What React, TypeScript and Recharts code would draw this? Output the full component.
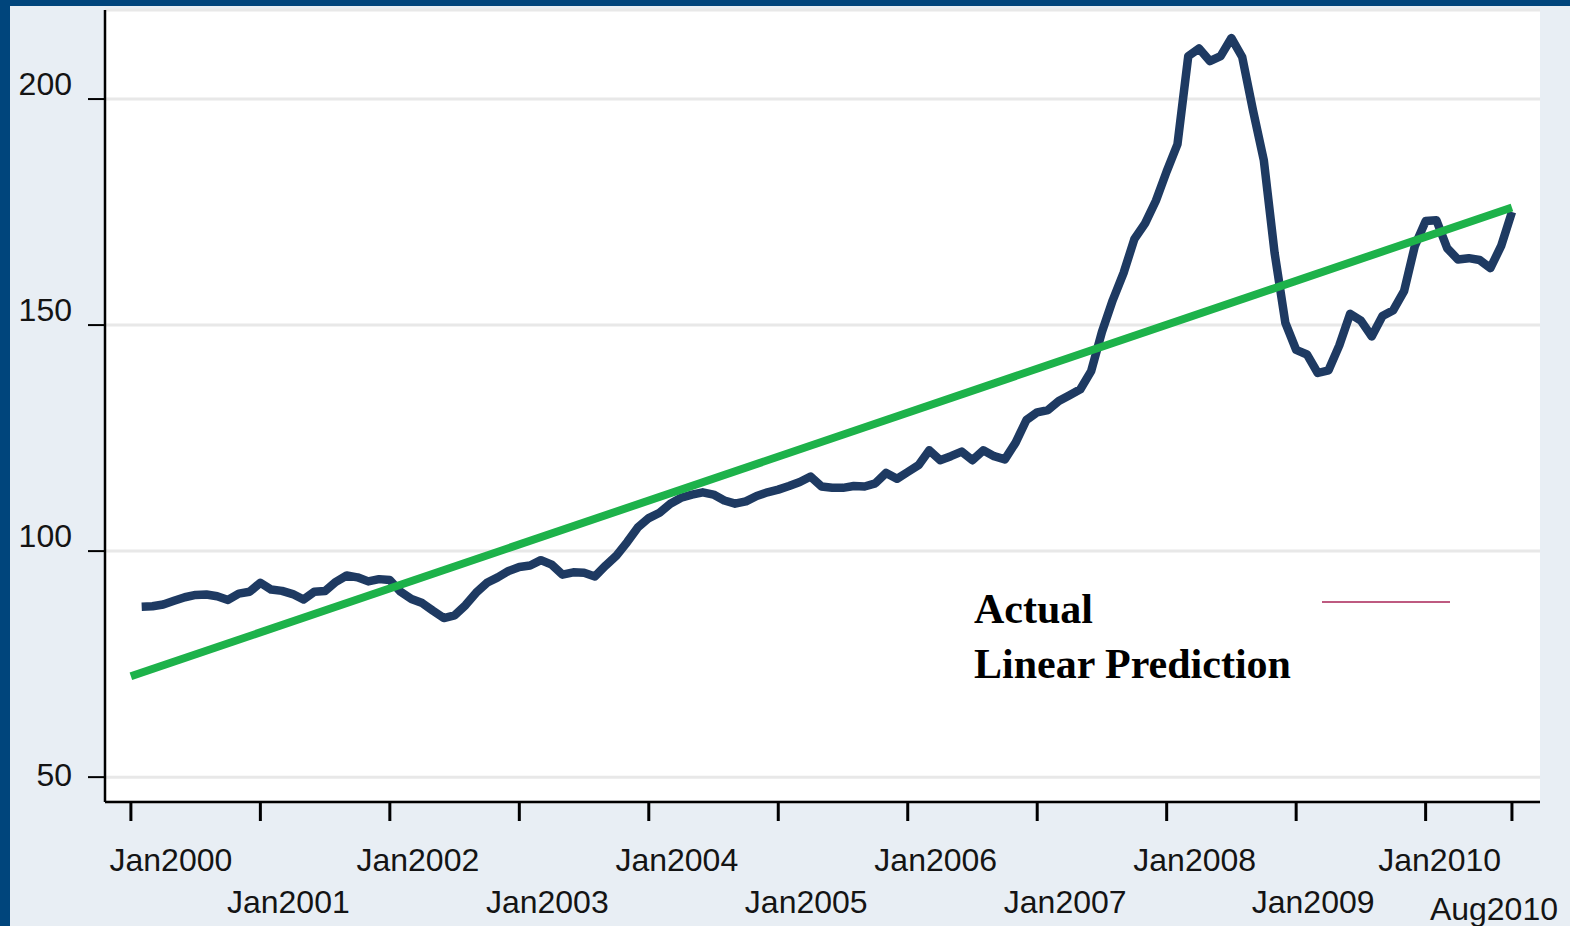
import React from "react";
import { LineChart, Line, XAxis, YAxis, CartesianGrid } from "recharts";

// monthly index, first actual point is Feb2000 (m = 1)
const actual2000 = [87.7, 87.8, 88.2, 89.0, 89.8, 90.3, 90.4, 90.0, 89.2, 90.6, 91.0];
const actual2001 = [93.0, 91.5, 91.2, 90.5, 89.3, 91.0, 91.2, 93.2, 94.6, 94.2, 93.3, 93.8];
const actual2002 = [93.6, 91.0, 89.4, 88.5, 86.8, 85.2, 85.8, 88.0, 90.8, 93.0, 94.2, 95.6];
const actual2003 = [96.5, 96.8, 98.0, 97.0, 94.8, 95.3, 95.2, 94.4, 96.8, 99.0, 102.0, 105.3];
const actual2004 = [107.3, 108.5, 110.5, 111.8, 112.5, 113.0, 112.5, 111.2, 110.5, 111.0, 112.2, 113.0];
const actual2005 = [113.6, 114.4, 115.3, 116.5, 114.3, 114.0, 114.0, 114.4, 114.3, 115.0, 117.3, 116.0];
const actual2006 = [117.5, 119.0, 122.3, 120.1, 121.0, 122.0, 120.1, 122.3, 121.0, 120.3, 124.0, 129.0];
const actual2007 = [130.7, 131.2, 133.2, 134.5, 135.8, 139.8, 148.5, 155.5, 161.5, 169.0, 172.5, 177.5];
const actual2008 = [184.0, 190.0, 209.5, 211.2, 208.4, 209.5, 213.5, 209.3, 197.5, 186.5, 166.0, 150.5];
const actual2009 = [144.5, 143.5, 139.4, 140.0, 145.5, 152.5, 151.0, 147.5, 152.0, 153.3, 157.5, 167.5];
const actual2010 = [173.0, 173.2, 167.0, 164.5, 164.8, 164.4, 162.6, 167.5, 175.0];

const predictionStart = 72.3;
const predictionEnd = 176.0;

const xTicks = [0, 12, 24, 36, 48, 60, 72, 84, 96, 108, 120, 128];
const xTickLabels = [
  "Jan2000", "Jan2001", "Jan2002", "Jan2003", "Jan2004", "Jan2005",
  "Jan2006", "Jan2007", "Jan2008", "Jan2009", "Jan2010", "Aug2010",
];
const yTicks = [50, 100, 150, 200];

const actual = [
  actual2000, actual2001, actual2002, actual2003, actual2004, actual2005,
  actual2006, actual2007, actual2008, actual2009, actual2010,
].flat();

const data = [
  { m: 0, actual: null as number | null, pred: predictionStart as number | null },
  ...actual.map((v, i) => ({
    m: i + 1,
    actual: v,
    pred: i === actual.length - 1 ? predictionEnd : null,
  })),
];

const font = "'Liberation Sans', Arial, sans-serif";
const serif = "'Liberation Serif', 'Times New Roman', serif";

const XTick = (props: any) => {
  const { x, y, payload } = props;
  const i = xTicks.indexOf(payload.value);
  const last = i === xTicks.length - 1;
  const dx = i === 0 ? 40 : i === 9 ? 17 : i === 10 ? 14 : last ? -18 : 28;
  const dy = last ? 99 : i % 2 === 0 ? 50 : 92;
  return (
    <text x={x + dx} y={y + dy} textAnchor="middle" fontFamily={font} fontSize={32} fill="#141414">
      {xTickLabels[i]}
    </text>
  );
};

const YTick = (props: any) => {
  const { x, y, payload } = props;
  const dy = payload.value === 50 ? 9 : -4;
  return (
    <text x={x} y={y + dy} textAnchor="end" fontFamily={font} fontSize={32} fill="#141414">
      {payload.value}
    </text>
  );
};

export default function App() {
  return (
    <div
      style={{
        position: "absolute",
        left: 0,
        top: 0,
        width: 1570,
        height: 926,
        background: "#E8EEF4",
        overflow: "hidden",
      }}
    >
      <div style={{ position: "absolute", left: 0, top: 0, width: 1570, height: 6, background: "#00457C" }} />
      <div style={{ position: "absolute", left: 0, top: 0, width: 10, height: 926, background: "#00457C" }} />
      <div style={{ position: "absolute", left: 0, top: 0 }}>
        <LineChart width={1570} height={926} data={data} margin={{ top: 10, right: 30, left: 25, bottom: 24 }}>
          <CartesianGrid
            vertical={false}
            horizontal
            fill="#ffffff"
            stroke="#e8e8e8"
            strokeWidth={3}
          />
          <XAxis
            dataKey="m"
            type="number"
            domain={[-2.4, 130.6]}
            ticks={xTicks}
            interval={0}
            allowDataOverflow
            height={100}
            tickSize={19}
            tickMargin={0}
            axisLine={{ stroke: "#000", strokeWidth: 2.5 }}
            tickLine={{ stroke: "#000", strokeWidth: 3 }}
            tick={<XTick />}
          />
          <YAxis
            type="number"
            domain={[44.5, 219.7]}
            ticks={yTicks}
            allowDataOverflow
            width={80}
            tickSize={17}
            tickMargin={16}
            axisLine={{ stroke: "#000", strokeWidth: 2.5 }}
            tickLine={{ stroke: "#000", strokeWidth: 2 }}
            tick={<YTick />}
          />
          <Line
            dataKey="actual"
            type="linear"
            stroke="#1E3A62"
            strokeWidth={8.5}
            strokeLinejoin="round"
            dot={false}
            isAnimationActive={false}
          />
          <Line
            dataKey="pred"
            type="linear"
            stroke="#1DB24A"
            strokeWidth={8}
            connectNulls
            dot={false}
            isAnimationActive={false}
          />
        </LineChart>
      </div>
      <svg
        width={1570}
        height={926}
        style={{ position: "absolute", left: 0, top: 0, pointerEvents: "none" }}
      >
        <text x={974} y={623} fontFamily={serif} fontWeight="bold" fontSize={42} fill="#000">
          Actual
        </text>
        <text x={974} y={678} fontFamily={serif} fontWeight="bold" fontSize={42} fill="#000">
          Linear Prediction
        </text>
        <line x1={1322} y1={602} x2={1450} y2={602} stroke="#BE5A80" strokeWidth={2} />
      </svg>
    </div>
  );
}
